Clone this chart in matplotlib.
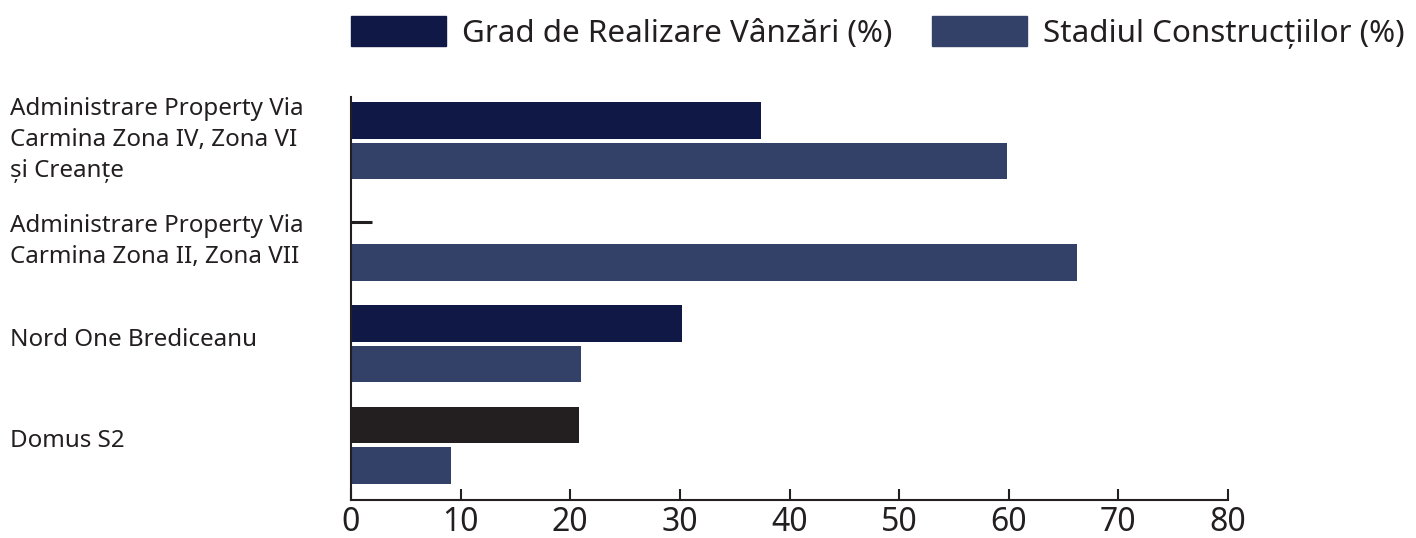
import matplotlib
matplotlib.use("Agg")
import matplotlib.pyplot as plt
import matplotlib.transforms as mtransforms
import numpy as np
from matplotlib.patches import Patch

categories = [
    "Administrare Property Via\nCarmina Zona IV, Zona VI\nși Creanțe",
    "Administrare Property Via\nCarmina Zona II, Zona VII",
    "Nord One Brediceanu",
    "Domus S2",
]
sales = [37.4, 0, 30.2, 20.8]
construction = [59.8, 66.2, 21.0, 9.1]
series_names = ["Grad de Realizare Vânzări (%)", "Stadiul Construcțiilor (%)"]
xticks = [0, 10, 20, 30, 40, 50, 60, 70, 80]

c_sales = "#101846"
c_constr = "#334068"
c_special = "#231f20"
ink = "#231f20"

plt.rcParams['font.family'] = ['Noto Sans', 'DejaVu Sans']

fig = plt.figure(figsize=(14.16, 5.38), dpi=100)
ax = fig.add_axes([351/1416, 38/538, 877/1416, 403/538])

y = np.arange(len(categories))
h = 0.36
off = 0.2
sales_colors = [c_sales] * (len(categories) - 1) + [c_special]
ax.barh(y - off, sales, height=h, color=sales_colors)
ax.barh(y + off, construction, height=h, color=c_constr)

# zero-value marker for sales
zero_idx = [i for i, v in enumerate(sales) if v == 0]
ax.plot([0] * len(zero_idx), [i - off for i in zero_idx], linestyle='none',
        marker=[(0, 0), (1, 0)], markersize=30, markeredgewidth=2.2,
        markeredgecolor=ink)

ax.set_xlim(0, 80)
ax.set_ylim(3.54, -0.43)
ax.set_xticks(xticks)
ax.set_xticklabels([str(t) for t in xticks])
ax.tick_params(axis='x', direction='in', length=8, width=1.5, colors=ink,
               labelsize=23, pad=4)
ax.set_yticks(y)
ax.set_yticklabels(categories, ha='left', fontsize=17.4, color=ink,
                   linespacing=1.38)
ax.tick_params(axis='y', length=0, pad=341*0.72)
shift = mtransforms.ScaledTranslation(0, 7/100, fig.dpi_scale_trans)
for lbl in ax.get_yticklabels():
    lbl.set_transform(lbl.get_transform() + shift)

for s in ['top', 'right']:
    ax.spines[s].set_visible(False)
for s in ['left', 'bottom']:
    ax.spines[s].set_color(ink)
    ax.spines[s].set_linewidth(1.5)

handles = [Patch(color=c_sales), Patch(color=c_constr)]
fig.legend(handles, series_names, loc='upper left',
           bbox_to_anchor=(351/1416, 1 - 16/538), ncol=2, frameon=False,
           fontsize=22.6, handlelength=3.03, handleheight=1.08,
           handletextpad=0.51, columnspacing=1.27, labelcolor=ink,
           borderaxespad=0, borderpad=0)

fig.savefig("out.png", dpi=100)
